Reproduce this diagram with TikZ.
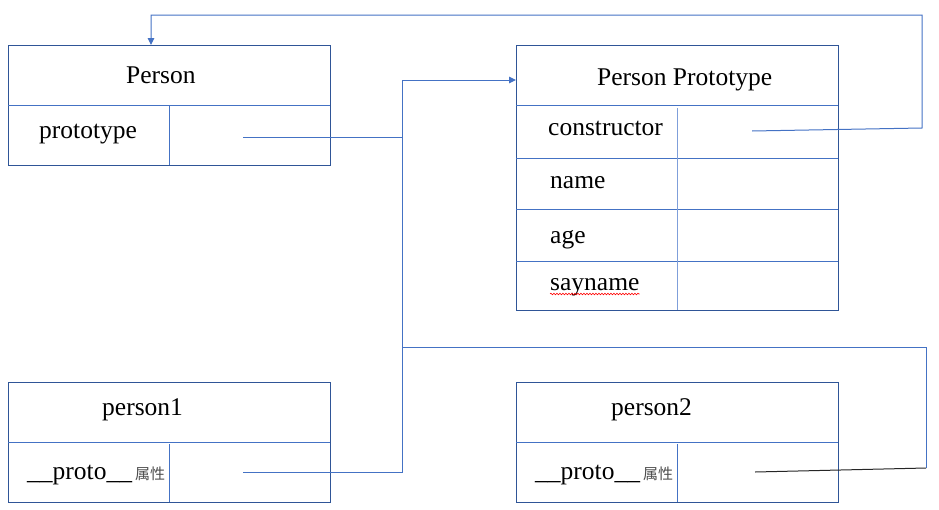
\documentclass[tikz,border=0pt]{standalone}
\usepackage{fontspec}
\setmainfont{Liberation Serif}
\newfontfamily\cjk{Noto Sans CJK SC}
\usetikzlibrary{arrows.meta,decorations.pathmorphing}
\definecolor{boxblue}{HTML}{2F5597}
\definecolor{linkblue}{HTML}{4472C4}
\definecolor{celllight}{HTML}{7F9FDA}
\begin{document}
\begin{tikzpicture}[x=1pt,y=-1pt,
  frame/.style={draw=boxblue,line width=1pt,inner sep=0pt,anchor=north west},
  cell/.style={draw=linkblue,line width=0.9pt},
  link/.style={draw=linkblue,line width=1pt},
  lbl/.style={anchor=base west,inner sep=0pt,font=\fontsize{25.5}{30}\selectfont},
  tag/.style={anchor=base west,inner sep=0pt,font=\cjk\fontsize{15}{18}\selectfont,text=black!70},
  tip/.style={-{Triangle[length=7pt,width=6.5pt]}}]
\useasboundingbox (0,0) rectangle (939,509);
% ---- boxes
\node[frame,minimum width=322pt,minimum height=120pt] (person) at (8,45) {};
\node[frame,minimum width=322pt,minimum height=265pt] (proto) at (516,45) {};
\node[frame,minimum width=322pt,minimum height=120pt] (p1) at (8,382) {};
\node[frame,minimum width=322pt,minimum height=120pt] (p2) at (516,382) {};
% ---- dividers
\draw[cell] (8,105) -- (330,105) (169,105) -- (169,165);
\draw[cell] (516,105) -- (838,105) (516,158) -- (838,158) (516,209) -- (838,209) (516,261) -- (838,261);
\draw[draw=celllight,line width=0.9pt] (677,108) -- (677,310);
\draw[cell] (8,442) -- (330,442) (169,444) -- (169,502);
\draw[cell] (516,442) -- (838,442) (677,444) -- (677,502);
% ---- texts
\node[lbl] (tPerson) at (126,83) {Person};
\node[lbl] (tPrototype) at (39,138) {prototype};
\node[lbl] (tPP) at (597,85) {Person Prototype};
\node[lbl] (tCtor) at (548,135) {constructor};
\node[lbl] (tName) at (550,188) {name};
\node[lbl] (tAge) at (550,243) {age};
\node[lbl] (tSay) at (550,290) {sayname};
\draw[red,line width=0.6pt,decorate,decoration={snake,amplitude=0.8pt,segment length=3pt}] (tSay.base west |- 0,294) -- (tSay.base east |- 0,294);
\node[lbl] (tP1) at (102,415) {person1};
\node[lbl] (tP1proto) at (27,479) {\_\_proto\_\_};
\node[tag] (tP1tag) at (135,479) {属性};
\node[lbl] (tP2) at (611,415) {person2};
\node[lbl] (tP2proto) at (535,479) {\_\_proto\_\_};
\node[tag] (tP2tag) at (643,479) {属性};
% ---- connector points
\coordinate (ctorSlot) at (752,131);
\coordinate (personIn) at (151,45);
\coordinate (protoSlot) at (243,137);
\coordinate (p1Slot) at (243,472);
\coordinate (p2Slot) at (755,472);
\coordinate (ppIn) at (516,80);
\coordinate (spineTop) at (402,80);
\coordinate (spineBot) at (402,472);
\coordinate (spineMid) at (402,347);
\coordinate (rightTop) at (922,15);
\coordinate (rightCtor) at (922,128);
\coordinate (rightMid) at (926,347);
\coordinate (rightBot) at (926,468);
% ---- connectors
\draw[link,tip] (ctorSlot) -- (rightCtor) -- (rightTop) -- (personIn |- rightTop) -- (personIn);
\draw[link] (protoSlot) -- (protoSlot -| spineTop);
\draw[link,tip] (p1Slot) -- (spineBot) -- (spineTop) -- (ppIn);
\draw[link] (spineMid) -- (rightMid) -- (rightBot);
\draw[black!85,line width=1pt] (p2Slot) -- (rightBot);
\end{tikzpicture}
\end{document}
